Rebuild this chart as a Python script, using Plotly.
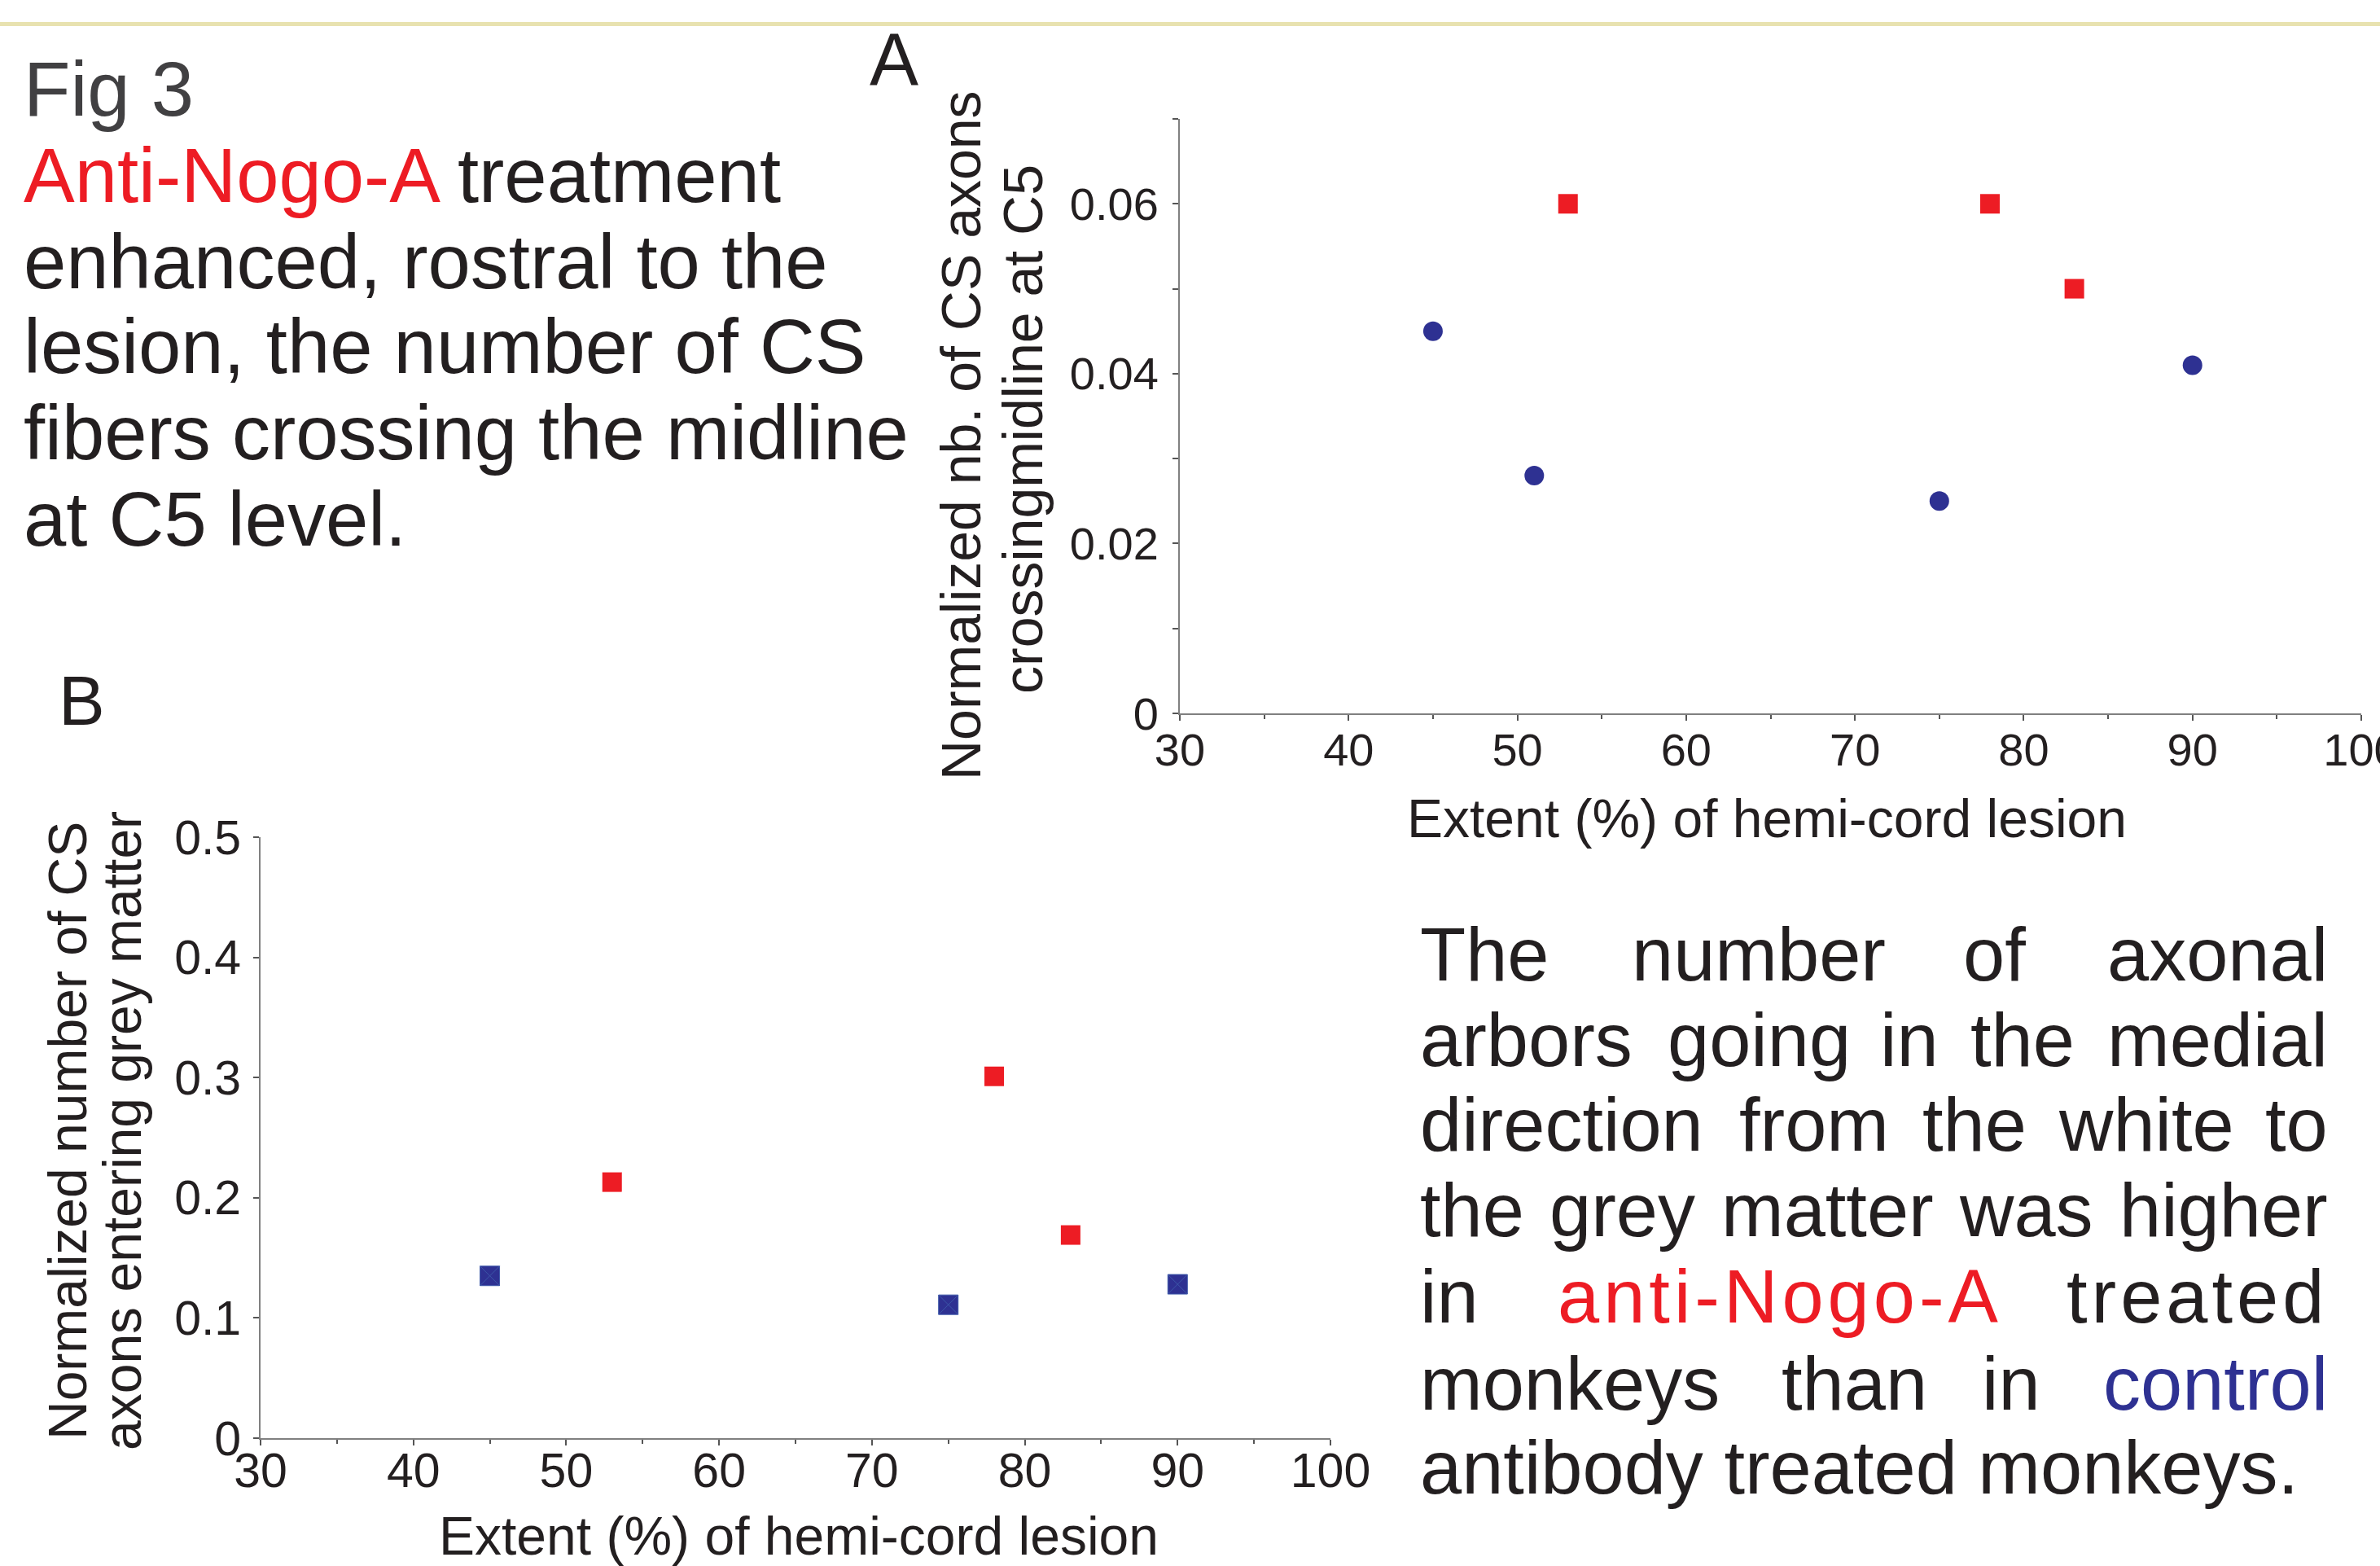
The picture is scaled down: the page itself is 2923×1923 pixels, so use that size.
import plotly.graph_objects as go

W, H = 2923, 1923
FONT = "Liberation Sans, Arial, Helvetica, sans-serif"
BLACK = "#231F20"
RED = "#ED1C24"
BLUE = "#2E3192"

# ---------------- data ----------------
# Panel A: normalized nb. of CS axons crossing midline at C5
A_ANTI_X = [53, 78, 83]
A_ANTI_Y = [0.060, 0.060, 0.050]
A_CTRL_X = [45, 51, 75, 90]
A_CTRL_Y = [0.045, 0.028, 0.025, 0.041]
# Panel B: normalized number of CS axons entering grey matter
B_ANTI_X = [53, 78, 83]
B_ANTI_Y = [0.213, 0.301, 0.169]
B_CTRL_X = [45, 75, 90]
B_CTRL_Y = [0.135, 0.111, 0.128]

X_TICKS = [30, 40, 50, 60, 70, 80, 90, 100]
X_TICK_LABELS = ["30", "40", "50", "60", "70", "80", "90", "100"]
A_Y_TICKS = [0, 0.02, 0.04, 0.06]
A_Y_TICK_LABELS = ["0", "0.02", "0.04", "0.06"]
B_Y_TICKS = [0, 0.1, 0.2, 0.3, 0.4, 0.5]
B_Y_TICK_LABELS = ["0", "0.1", "0.2", "0.3", "0.4", "0.5"]


def px(x):
    return x / W


def py(y):
    return 1 - y / H


fig = go.Figure()

fig.add_trace(go.Scatter(x=A_ANTI_X, y=A_ANTI_Y, mode="markers", xaxis="x", yaxis="y",
                         marker=dict(symbol="square", size=24, color=RED, line=dict(width=0)),
                         cliponaxis=False, showlegend=False))
fig.add_trace(go.Scatter(x=A_CTRL_X, y=A_CTRL_Y, mode="markers", xaxis="x", yaxis="y",
                         marker=dict(symbol="circle", size=24, color=BLUE, line=dict(width=0)),
                         cliponaxis=False, showlegend=False))
fig.add_trace(go.Scatter(x=B_ANTI_X, y=B_ANTI_Y, mode="markers", xaxis="x2", yaxis="y2",
                         marker=dict(symbol="square", size=24, color=RED, line=dict(width=0)),
                         cliponaxis=False, showlegend=False))
fig.add_trace(go.Scatter(x=B_CTRL_X, y=B_CTRL_Y, mode="markers", xaxis="x2", yaxis="y2",
                         marker=dict(symbol="square-x", size=24, color=BLUE,
                                     line=dict(width=1, color="#3C57A8")),
                         cliponaxis=False, showlegend=False))

axis_common = dict(showline=True, linecolor="#808080", linewidth=2, showgrid=False,
                   zeroline=False, ticks="outside", ticklen=7, tickwidth=2,
                   tickcolor="#555555", automargin=False, ticklabeloverflow="allow")

fig.update_layout(
    template="none",
    width=W, height=H,
    margin=dict(l=0, r=0, t=0, b=0, pad=0, autoexpand=False),
    showlegend=False,
    paper_bgcolor="white", plot_bgcolor="white",
    font=dict(family=FONT, color=BLACK),
    xaxis=dict(domain=[px(1449), px(2900)], range=[30, 100], anchor="y",
               tickvals=X_TICKS, ticktext=X_TICK_LABELS, tickfont=dict(size=56, color=BLACK),
               minor=dict(dtick=5, tick0=30, ticks="outside", ticklen=5, tickwidth=2,
                          tickcolor="#555555", showgrid=False),
               ticklabelstandoff=-12,
               **axis_common),
    yaxis=dict(domain=[py(876), py(146)], range=[0, 0.07], anchor="x",
               tickvals=A_Y_TICKS, ticktext=A_Y_TICK_LABELS, tickfont=dict(size=56, color=BLACK),
               minor=dict(dtick=0.01, tick0=0, ticks="outside", ticklen=7, tickwidth=2,
                          tickcolor="#555555", showgrid=False),
               ticklabelstandoff=6,
               **axis_common),
    xaxis2=dict(domain=[px(320), px(1634)], range=[30, 100], anchor="y2",
                tickvals=X_TICKS, ticktext=X_TICK_LABELS, tickfont=dict(size=59, color=BLACK),
                minor=dict(dtick=5, tick0=30, ticks="outside", ticklen=5, tickwidth=2,
                           tickcolor="#555555", showgrid=False),
                ticklabelstandoff=-20,
                **axis_common),
    yaxis2=dict(domain=[py(1766), py(1028)], range=[0, 0.5], anchor="x2",
                tickvals=B_Y_TICKS, ticktext=B_Y_TICK_LABELS, tickfont=dict(size=59, color=BLACK),
                ticklabelstandoff=3,
                **axis_common),
)

# top decorative rule
fig.add_shape(type="line", xref="paper", yref="paper", x0=0, x1=1, y0=py(29.5), y1=py(29.5),
              line=dict(color="#E8E2B0", width=5))

ann = []


def text(x, y, s, size, color=BLACK, xanchor="left", angle=0):
    ann.append(dict(x=px(x), y=py(y), xref="paper", yref="paper", text=s, showarrow=False,
                    xanchor=xanchor, yanchor="middle", textangle=angle,
                    font=dict(size=size, color=color, family=FONT)))


# left title block
text(27, 110, "Fig 3", 94, color="#414042")
LEFT_LINES = [
    '<span style="color:%s">Anti-Nogo-A</span> treatment' % RED,
    "enhanced, rostral to the",
    "lesion, the number of CS",
    "fibers crossing the midline",
    "at C5 level.",
]
LEFT_MID = [216, 321, 426, 531, 637]
for s, y in zip(LEFT_LINES, LEFT_MID):
    text(27, y, s, 94)

# panel letters
text(1098, 73, "A", 90, xanchor="center")
text(100, 860, "B", 85, xanchor="center")

# axis titles panel A
text(1180, 535, "Normalized nb. of CS axons", 68, xanchor="center", angle=-90)
text(1256, 527, "crossingmidline at C5", 68, xanchor="center", angle=-90)
text(2170, 1005, "Extent (%) of hemi-cord lesion", 66, xanchor="center")

# axis titles panel B
text(83, 1389, "Normalized number of CS", 66, xanchor="center", angle=-90)
text(150, 1389, "axons entering grey matter", 66, xanchor="center", angle=-90)
text(981, 1886, "Extent (%) of hemi-cord lesion", 66, xanchor="center")

# right justified paragraph
R_LEFT, R_RIGHT = 1742, 2861
R_FS = 92
WIDE = '<span style="letter-spacing:5px">%s</span>'
R_LINES = [
    (1172, ["The", "number", "of", "axonal"], [2160, 2449]),
    (1277, ["arbors", "going", "in", "the", "medial"], [2160, 2345, 2484]),
    (1381, ["direction", "from", "the", "white", "to"], [2228, 2425, 2636]),
    (1486, ["the", "grey", "matter", "was", "higher"], [1992, 2244, 2488]),
    (1592, ["in", '<span style="color:%s;letter-spacing:5px">anti-Nogo-A</span>' % RED,
            WIDE % "treated"], [2186]),
    (1699, ["monkeys", "than", "in", '<span style="color:%s">control</span>' % BLUE], [2277, 2470]),
]
for y, words, mids in R_LINES:
    text(R_LEFT, y, words[0], R_FS, xanchor="left")
    for w, xc in zip(words[1:-1], mids):
        text(xc, y, w, R_FS, xanchor="center")
    text(R_RIGHT, y, words[-1], R_FS, xanchor="right")
text(R_LEFT, 1802, "antibody treated monkeys.", R_FS, xanchor="left")

fig.update_layout(annotations=ann)

fig.write_html("out.html")
